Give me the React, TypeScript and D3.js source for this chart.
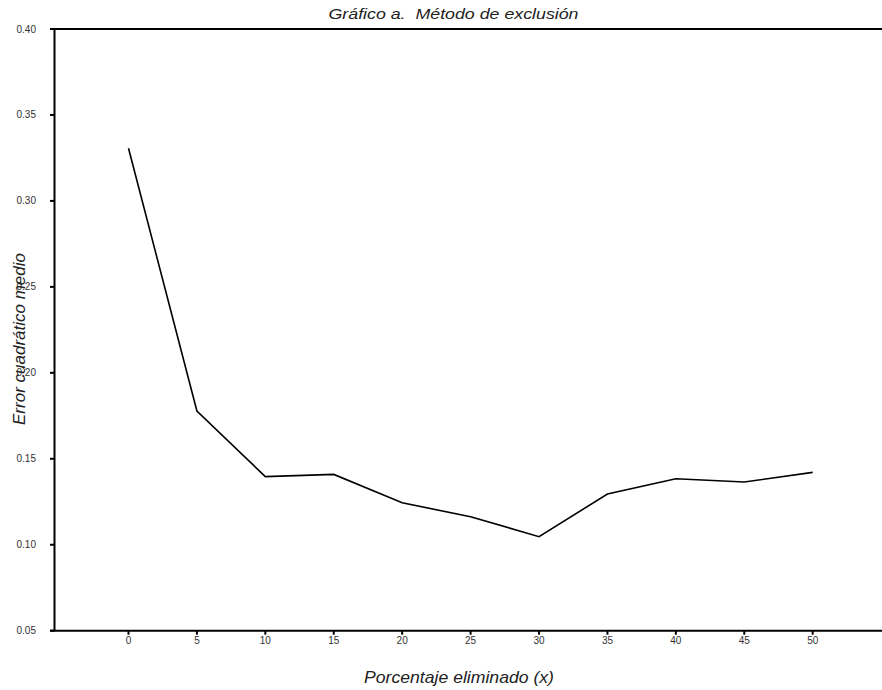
import * as d3 from "d3";
import { useEffect, useRef } from "react";

// porcentaje eliminado (x) vs error cuadratico medio
const porcentajes = [0, 5, 10, 15, 20, 25, 30, 35, 40, 45, 50];
const errores = [0.3306, 0.1778, 0.1396, 0.1409, 0.1244, 0.1163, 0.1047, 0.1295, 0.1384, 0.1365, 0.1421];
const yTicks = [0.05, 0.1, 0.15, 0.2, 0.25, 0.3, 0.35, 0.4];
const xTicks = [0, 5, 10, 15, 20, 25, 30, 35, 40, 45, 50];

export default function App() {
    const svgRef = useRef<SVGSVGElement | null>(null);
    const width = 882;
    const height = 690;

    useEffect(() => {
        const svg = d3.select(svgRef.current)
            .attr("width", width)
            .attr("height", height);
        svg.selectAll("*").remove();

        const font = "'Liberation Sans', Arial, sans-serif";

        const x = d3.scaleLinear().domain([0, 50]).range([128.5, 812.7]);
        const y = d3.scaleLinear().domain([0.05, 0.4]).range([630.7, 29]);

        const leftX = 54.5;

        // frame: left axis, bottom axis, top line
        const frame = svg.append("g").attr("stroke", "#000").attr("stroke-width", 2);
        frame.append("line")
            .attr("x1", leftX).attr("x2", leftX)
            .attr("y1", y(0.4)).attr("y2", y(0.05));
        frame.append("line")
            .attr("x1", 50).attr("x2", width)
            .attr("y1", y(0.05)).attr("y2", y(0.05));
        frame.append("line")
            .attr("x1", 50).attr("x2", width)
            .attr("y1", y(0.4)).attr("y2", y(0.4));

        // y ticks
        const gy = svg.append("g");
        gy.selectAll("line")
            .data(yTicks)
            .join("line")
            .attr("x1", 50).attr("x2", leftX)
            .attr("y1", d => y(d)).attr("y2", d => y(d))
            .attr("stroke", "#000")
            .attr("stroke-width", 2);
        gy.selectAll("text")
            .data(yTicks)
            .join("text")
            .attr("x", 36)
            .attr("y", d => y(d))
            .attr("dy", "0.35em")
            .attr("text-anchor", "end")
            .attr("font-family", font)
            .attr("font-size", 10)
            .attr("fill", "#333")
            .text(d => d3.format(".2f")(d));

        // x ticks
        const gx = svg.append("g");
        gx.selectAll("line")
            .data(xTicks)
            .join("line")
            .attr("x1", d => x(d)).attr("x2", d => x(d))
            .attr("y1", y(0.05)).attr("y2", y(0.05) + 4)
            .attr("stroke", "#000")
            .attr("stroke-width", 2);
        gx.selectAll("text")
            .data(xTicks)
            .join("text")
            .attr("x", d => x(d))
            .attr("y", 643.5)
            .attr("text-anchor", "middle")
            .attr("font-family", font)
            .attr("font-size", 10)
            .attr("fill", "#333")
            .text(d => d);

        // series line
        const line = d3.line<number>()
            .x((d, i) => x(porcentajes[i]))
            .y(d => y(d));
        svg.append("path")
            .attr("d", line(errores))
            .attr("fill", "none")
            .attr("stroke", "#000")
            .attr("stroke-width", 1.6)
            .attr("stroke-linejoin", "miter");

        // titles
        svg.append("text")
            .attr("x", 453.5)
            .attr("y", 19)
            .attr("text-anchor", "middle")
            .attr("font-family", font)
            .attr("font-style", "italic")
            .attr("font-size", 15)
            .attr("textLength", 250)
            .attr("lengthAdjust", "spacingAndGlyphs")
            .attr("fill", "#222")
            .style("white-space", "pre")
            .text("Gráfico a.  Método de exclusión");

        svg.append("text")
            .attr("x", 459)
            .attr("y", 682.5)
            .attr("text-anchor", "middle")
            .attr("font-family", font)
            .attr("font-style", "italic")
            .attr("font-size", 16.5)
            .attr("textLength", 190)
            .attr("lengthAdjust", "spacingAndGlyphs")
            .attr("fill", "#222")
            .text("Porcentaje eliminado (x)");

        svg.append("text")
            .attr("transform", "translate(25, 339) rotate(-90)")
            .attr("text-anchor", "middle")
            .attr("font-family", font)
            .attr("font-style", "italic")
            .attr("font-size", 17)
            .attr("fill", "#222")
            .text("Error cuadrático medio");
    }, []);

    return <svg ref={svgRef} style={{ position: "absolute", left: 0, top: 0 }} />;
}
